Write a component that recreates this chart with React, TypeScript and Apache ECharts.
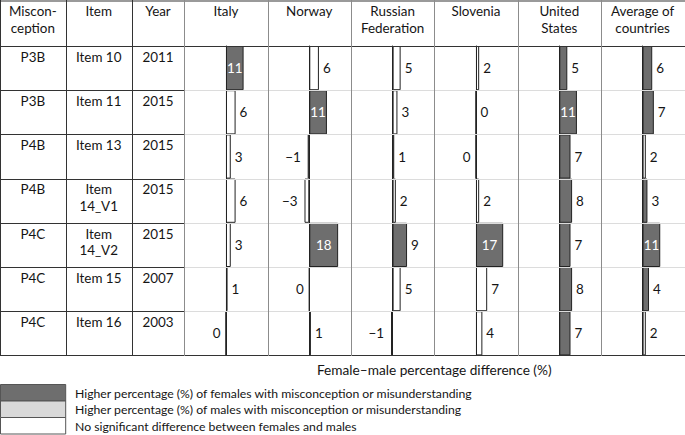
import React, { useEffect, useRef } from "react";
import * as echarts from "echarts";

const headerLeft = ["Miscon-\nception", "Item", "Year"];
const misconceptions = ["P3B", "P3B", "P4B", "P4B", "P4C", "P4C", "P4C"];
const items = ["Item 10", "Item 11", "Item 13", "Item\n14_V1", "Item\n14_V2", "Item 15", "Item 16"];
const years = ["2011", "2015", "2015", "2015", "2015", "2007", "2003"];
const countries = ["Italy", "Norway", "Russian\nFederation", "Slovenia", "United\nStates", "Average of\ncountries"];

const italy = [11, 6, 3, 6, 3, 1, 0];
const norway = [6, 11, -1, -3, 18, 0, 1];
const russia = [5, 3, 1, 2, 9, 5, -1];
const slovenia = [2, 0, 0, 2, 17, 7, 4];
const unitedStates = [5, 11, 7, 8, 7, 8, 7];
const average = [6, 7, 2, 3, 11, 4, 2];

// 1 = significantly higher percentage of females
const italySig = [1, 0, 0, 0, 0, 0, 0];
const norwaySig = [0, 1, 0, 0, 1, 0, 0];
const russiaSig = [0, 0, 0, 0, 1, 0, 0];
const sloveniaSig = [0, 0, 0, 0, 1, 0, 0];
const unitedStatesSig = [1, 1, 1, 1, 1, 1, 1];
const averageSig = [1, 1, 0, 1, 1, 1, 0];

// zero values whose label sits left of the axis: [country index, row index]
const zeroLabelLeft = [[0, 6], [1, 5], [3, 2]];

const legendLabels = [
  "Higher percentage (%) of females with misconception or misunderstanding",
  "Higher percentage (%) of males with misconception or misunderstanding",
  "No significant difference between females and males",
];
const axisTitle = "Female\u2013male percentage difference (%)";

const values = [italy, norway, russia, slovenia, unitedStates, average];
const sigs = [italySig, norwaySig, russiaSig, sloveniaSig, unitedStatesSig, averageSig];

const DARK = "#6e6e6e";
const LIGHT = "#d9d9d9";
const FONT = "Lato";
const INK = "#151515";

function fitSize(t: string, target: number): number {
  const ctx = document.createElement("canvas").getContext("2d");
  if (!ctx) return 13;
  ctx.font = `100px ${FONT}`;
  const w = ctx.measureText(t).width / 100;
  return w > 0 ? target / w : 13;
}

export default function App() {
  const ref = useRef<HTMLDivElement>(null);
  useEffect(() => {
    if (!ref.current) return;
    const chart = echarts.init(ref.current, null, { renderer: "svg" });

    const tableSize = Math.min(14.5, fitSize("Item 10", 45.5));
    const labelSize = tableSize;
    const titleSize = Math.min(14.5, fitSize(axisTitle, 235));
    const legendSize = Math.min(14.5, fitSize(legendLabels[0], 398));

    const top = 46;
    const rowH = 44.2;
    const nRows = misconceptions.length;
    const bottom = top + rowH * nRows;
    const leftCols = [0, 65.7, 131.7, 184.3];
    const colW = 83.33;
    const cStart = 184.3;

    const grids: any[] = [];
    const xAxes: any[] = [];
    const yAxes: any[] = [];
    const series: any[] = [];

    values.forEach((vals, ci) => {
      grids.push({ left: cStart + ci * colW, width: colW, top, height: rowH * nRows });
      xAxes.push({ type: "value", gridIndex: ci, min: -26, max: 26, show: false });
      yAxes.push({
        type: "category",
        gridIndex: ci,
        inverse: true,
        data: misconceptions.map((_, i) => String(i)),
        axisLabel: { show: false },
        axisTick: { show: false },
        splitLine: { show: false },
        axisLine: { show: true, onZero: true, lineStyle: { color: "#222", width: 1 } },
        z: 5,
      });
      series.push({
        type: "bar",
        xAxisIndex: ci,
        yAxisIndex: ci,
        barWidth: "100%",
        z: 3,
        data: vals.map((v, ri) => {
          const dark = sigs[ci][ri] === 1;
          const zeroLeft = zeroLabelLeft.some(([c, r]) => c === ci && r === ri);
          let label: any;
          if (dark && v >= 10) {
            label = { position: "inside", color: "#fff" };
          } else if (v < 0) {
            label = { position: "left", distance: 7, color: INK };
          } else if (v === 0 && zeroLeft) {
            label = { position: "left", distance: 5, color: INK };
          } else {
            label = { position: "right", distance: 4, color: INK };
          }
          return {
            value: v,
            itemStyle: { color: dark ? DARK : "#fff", borderColor: "#222", borderWidth: 1 },
            label,
          };
        }),
        label: {
          show: true,
          fontFamily: FONT,
          fontSize: labelSize,
          formatter: (p: any) => (p.value < 0 ? "\u2212" + Math.abs(p.value) : String(p.value)),
        },
      });
    });

    const g: any[] = [];
    const line = (x1: number, y1: number, x2: number, y2: number, color: string, w = 1) =>
      g.push({ type: "line", shape: { x1, y1, x2, y2 }, style: { stroke: color, lineWidth: w }, z: 10 });
    const text = (t: string, x: number, y: number, size: number, align = "center", va = "top", lh = 16.6) =>
      g.push({
        type: "text",
        x,
        y,
        z: 11,
        style: { text: t, fill: INK, font: `${size}px ${FONT}`, align, verticalAlign: va, lineHeight: lh },
      });

    // row lines
    for (let r = 1; r < nRows; r++) {
      const y = Math.round(top + r * rowH) + 0.5;
      line(cStart, y, 685, y, "#dcdcdc");
      line(0, y, cStart, y, "#333");
    }
    // top border
    line(0, 1, 685, 1, "#9a9a9a", 2);
    // header bottom and table bottom
    line(0, top + 0.5, 685, top + 0.5, "#333");
    line(0, Math.round(bottom) + 0.5, 685, Math.round(bottom) + 0.5, "#333");
    // vertical lines
    line(0.5, 0, 0.5, Math.round(bottom) + 1, "#333");
    line(Math.round(leftCols[1]) + 0.5, 0, Math.round(leftCols[1]) + 0.5, Math.round(bottom) + 1, "#333");
    line(Math.round(leftCols[2]) + 0.5, 0, Math.round(leftCols[2]) + 0.5, Math.round(bottom) + 1, "#333");
    for (let c = 0; c < countries.length; c++) {
      const x = Math.round(cStart + c * colW) + 0.5;
      line(x, 0, x, Math.round(bottom) + 1, "#8c8c8c");
    }

    // header texts
    headerLeft.forEach((t, i) => text(t, (leftCols[i] + leftCols[i + 1]) / 2, 2.7, tableSize));
    countries.forEach((t, i) => text(t, cStart + i * colW + colW / 2, 2.7, tableSize));

    // row texts
    const leftData = [misconceptions, items, years];
    leftData.forEach((col, ci) => {
      col.forEach((t, ri) =>
        text(t, (leftCols[ci] + leftCols[ci + 1]) / 2, top + ri * rowH + 2.6, tableSize, "center", "top", 16.5)
      );
    });

    // axis title (centred over the country columns)
    text(axisTitle, cStart + (colW * countries.length) / 2, 370, titleSize, "center", "middle");

    // legend
    const legendFills = [DARK, LIGHT, "#fff"];
    const ly = [384.5, 401, 417.5];
    legendFills.forEach((f, i) => {
      g.push({
        type: "rect",
        shape: { x: 0.5, y: ly[i], width: 65.2, height: 16.5 },
        style: { fill: f, stroke: "#555", lineWidth: 1 },
        z: 10,
      });
      text(legendLabels[i], 75, ly[i] + 8.8, legendSize, "left", "middle");
    });

    chart.setOption({
      animation: false,
      grid: grids,
      xAxis: xAxes,
      yAxis: yAxes,
      series,
      graphic: g,
    });
    return () => chart.dispose();
  }, []);
  return <div ref={ref} style={{ position: "fixed", left: 0, top: 0, width: 685, height: 435, background: "#fff" }} />;
}
